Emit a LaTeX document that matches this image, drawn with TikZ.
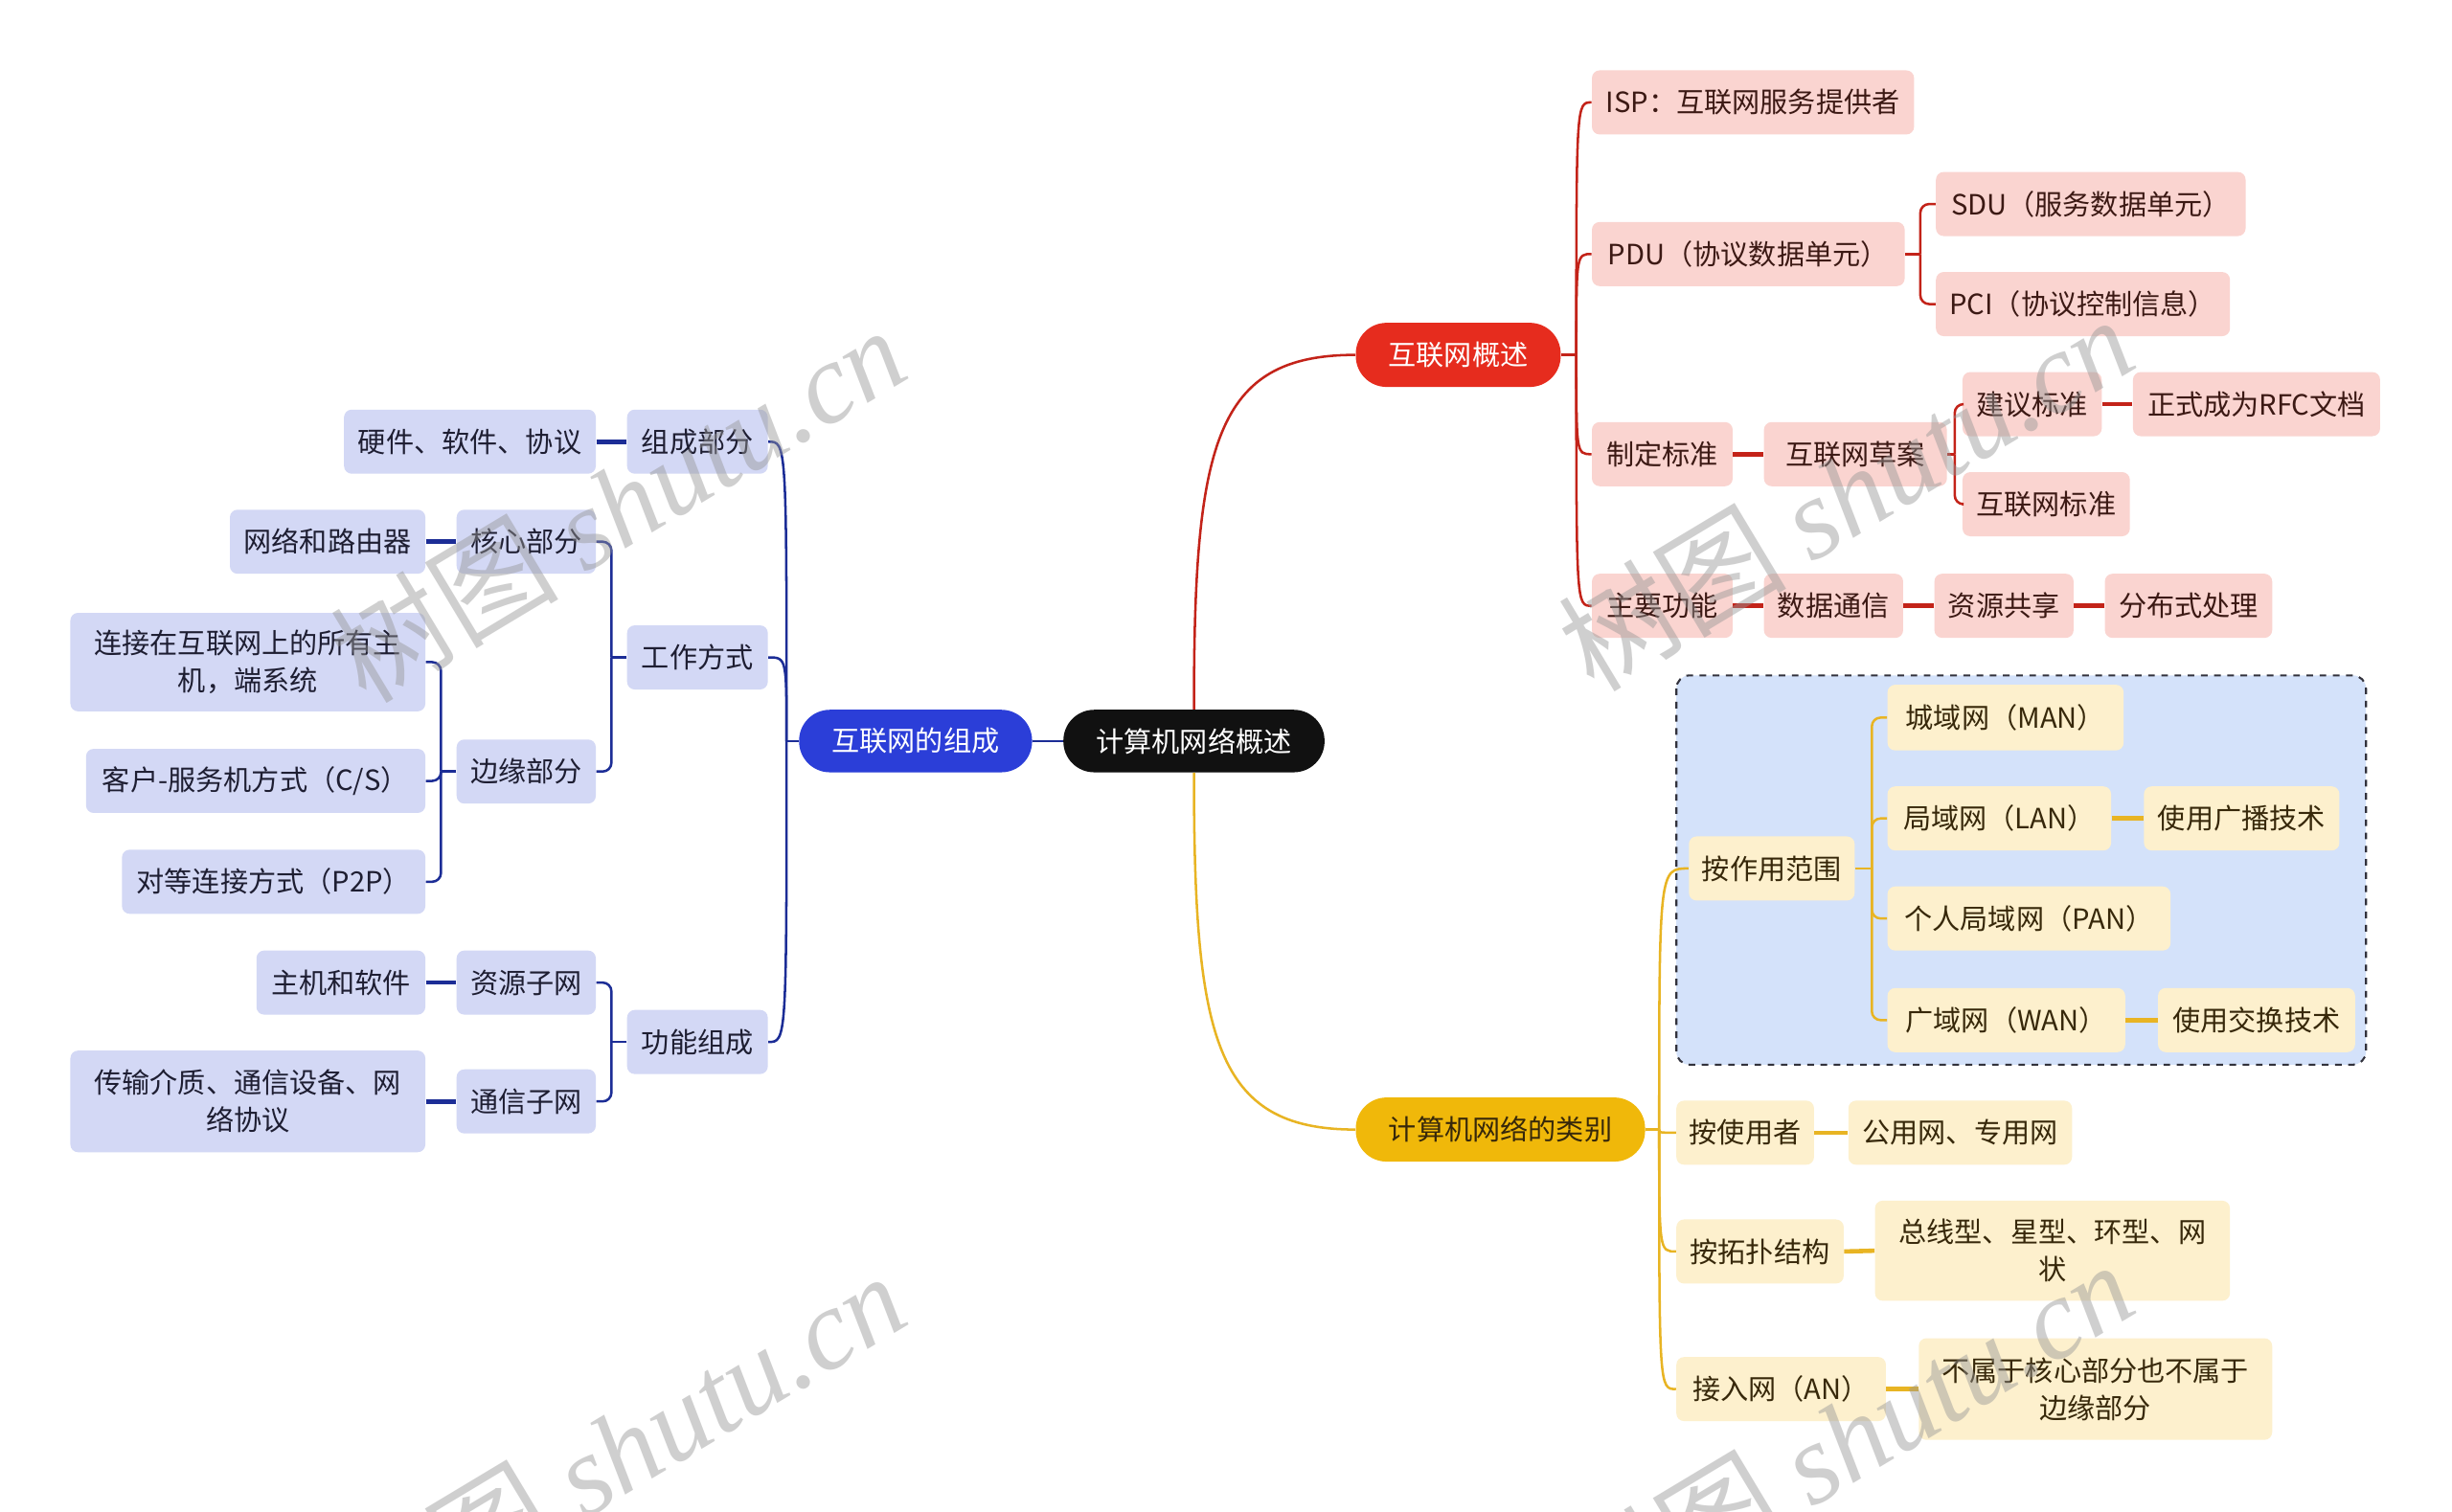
\documentclass[tikz,border=0pt]{standalone}
\usepackage{fontspec}
\setmainfont{Noto Sans CJK SC}
\newfontfamily\wmserif{Liberation Serif}
\usetikzlibrary{calc}
\definecolor{cBd}{RGB}{43,62,216}
\definecolor{cBf}{RGB}{211,216,245}
\definecolor{cBl}{RGB}{28,45,150}
\definecolor{cBt}{RGB}{30,30,50}
\definecolor{cRd}{RGB}{230,44,30}
\definecolor{cRf}{RGB}{250,212,208}
\definecolor{cRl}{RGB}{195,35,25}
\definecolor{cRt}{RGB}{60,25,20}
\definecolor{cYd}{RGB}{240,184,10}
\definecolor{cYf}{RGB}{253,240,205}
\definecolor{cYl}{RGB}{232,180,35}
\definecolor{cYt}{RGB}{55,40,10}
\definecolor{cBox}{RGB}{212,226,250}
\definecolor{cBoxB}{RGB}{50,50,60}
\definecolor{cRoot}{RGB}{17,17,17}
\definecolor{cWm}{RGB}{150,150,150}
\begin{document}
\begin{tikzpicture}[x=0.025cm,y=-0.025cm,
  base/.style={rounded corners=3.5pt, inner sep=0pt, align=center, font=\fontsize{12.7}{17}\selectfont},
  sz/.style 2 args={minimum width={#1*0.025cm}, minimum height={#2*0.025cm}},
  bnode/.style={base, fill=cBf, text=cBt},
  rnode/.style={base, fill=cRf, text=cRt},
  ynode/.style={base, fill=cYf, text=cYt},
  pill/.style={base, rounded corners=14pt},
  bln/.style={draw=cBl, line width=1.1pt},
  rln/.style={draw=cRl, line width=1.1pt},
  yln/.style={draw=cYl, line width=1.1pt},
  blt/.style={draw=cBl, line width=2pt},
  rlt/.style={draw=cRl, line width=2pt},
  ylt/.style={draw=cYl, line width=2pt},
  elb/.style={rounded corners=4pt},
  wm/.style={text=cWm, opacity=0.45, font=\fontsize{52}{52}\selectfont, inner sep=0pt}
]
\useasboundingbox (0,0) rectangle (1568,967);
\fill[white] (0,0) rectangle (1568,967);

% dashed group box
\draw[fill=cBox, draw=cBoxB, dashed, line width=0.9pt, rounded corners=6pt] (1072,432) rectangle (1513,681);

% root and main branches
\node[pill, fill=cRoot, text=white, sz={167}{40}] (root) at (763.5,474) {计算机网络概述};
\node[pill, fill=cBd, text=white, sz={149}{40}] (b1) at (585.5,474) {互联网的组成};
\node[pill, fill=cRd, text=white, sz={131}{41}] (r1) at (932.5,227) {互联网概述};
\node[pill, fill=cYd, text=cYt, sz={185}{41}] (y1) at (959.5,722.5) {计算机网络的类别};

% blue side
\node[bnode, sz={90}{41}] (zc) at (446,282.5) {组成部分};
\node[bnode, sz={161}{41}] (hw) at (300.5,282.5) {硬件、软件、协议};
\node[bnode, sz={90}{41}] (gz) at (446,420.5) {工作方式};
\node[bnode, sz={89}{41}] (hx) at (336.5,346.5) {核心部分};
\node[bnode, sz={125}{41}] (wl) at (209.5,346.5) {网络和路由器};
\node[bnode, sz={89}{41}] (by) at (336.5,493.5) {边缘部分};
\node[bnode, sz={227}{63}] (lj) at (158.5,423.5) {连接在互联网上的所有主\\机，端系统};
\node[bnode, sz={217}{41}] (kh) at (163.5,499.5) {客户-服务机方式（C/S）};
\node[bnode, sz={194}{41}] (dd) at (175,564) {对等连接方式（P2P）};
\node[bnode, sz={90}{41}] (gn) at (446,666.5) {功能组成};
\node[bnode, sz={89}{41}] (zy) at (336.5,628.5) {资源子网};
\node[bnode, sz={108}{41}] (zj) at (218,628.5) {主机和软件};
\node[bnode, sz={89}{41}] (tx) at (336.5,704.5) {通信子网};
\node[bnode, sz={227}{65}] (cs) at (158.5,704.5) {传输介质、通信设备、网\\络协议};

% red side
\node[rnode, sz={206}{41}] (isp) at (1121,65.5) {ISP：互联网服务提供者};
\node[rnode, sz={200}{41}] (pdu) at (1118,162.5) {PDU（协议数据单元）};
\node[rnode, sz={198}{41}] (sdu) at (1337,130.5) {SDU（服务数据单元）};
\node[rnode, sz={188}{41}] (pci) at (1332,194.5) {PCI（协议控制信息）};
\node[rnode, sz={90}{41}] (zd) at (1063,290.5) {制定标准};
\node[rnode, sz={117}{41}] (ca) at (1186.5,290.5) {互联网草案};
\node[rnode, sz={89}{41}] (jy) at (1299.5,258.5) {建议标准};
\node[rnode, sz={158}{41}] (rfc) at (1443,258.5) {正式成为RFC文档};
\node[rnode, sz={107}{41}] (bz) at (1308.5,322.5) {互联网标准};
\node[rnode, sz={90}{41}] (gnr) at (1063,387.5) {主要功能};
\node[rnode, sz={89}{41}] (sj) at (1172.5,387.5) {数据通信};
\node[rnode, sz={89}{41}] (zxg) at (1281.5,387.5) {资源共享};
\node[rnode, sz={107}{41}] (fb) at (1399.5,387.5) {分布式处理};

% yellow side
\node[ynode, sz={106}{41}] (zyfw) at (1133,555.5) {按作用范围};
\node[ynode, sz={151}{42}] (man) at (1282.5,459) {城域网（MAN）};
\node[ynode, sz={143}{41}] (lan) at (1278.5,523.5) {局域网（LAN）};
\node[ynode, sz={125}{41}] (gb) at (1433.5,523.5) {使用广播技术};
\node[ynode, sz={181}{41}] (pan) at (1297.5,587.5) {个人局域网（PAN）};
\node[ynode, sz={152}{41}] (wan) at (1283,652.5) {广域网（WAN）};
\node[ynode, sz={126}{41}] (jh) at (1443,652.5) {使用交换技术};
\node[ynode, sz={88}{41}] (syz) at (1116,724.5) {按使用者};
\node[ynode, sz={143}{41}] (gy) at (1253.5,724.5) {公用网、专用网};
\node[ynode, sz={107}{41}] (tp) at (1125.5,800.5) {按拓扑结构};
\node[ynode, sz={227}{64}] (zxx) at (1312.5,800) {总线型、星型、环型、网\\状};
\node[ynode, sz={134}{41}] (an) at (1139,888.5) {接入网（AN）};
\node[ynode, sz={226}{65}] (bs) at (1340,888.5) {不属于核心部分也不属于\\边缘部分};

% main connectors
\draw[rln] (root.north) .. controls +(0,-170) and +(-90,0) .. (r1.west);
\draw[yln] (root.south) .. controls +(0,170) and +(-90,0) .. (y1.west);
\draw[bln] (root.west) -- (b1.east);

% junctions
\coordinate (jb1) at (503,474);
\coordinate (jr1) at (1008,227);
\coordinate (jy1) at (1061,722.5);
\coordinate (jgz) at (391,420.5);
\coordinate (jby) at (282,493.5);
\coordinate (jgn) at (391,666.5);
\coordinate (jpdu) at (1228,162.5);
\coordinate (jca) at (1250,290.5);
\coordinate (jzy) at (1197,555.5);

% level 1 -> level 2 curves
\draw[bln] (b1.west) -- (jb1);
\foreach \c in {zc,gz,gn} {\draw[bln] (jb1) .. controls (jb1 |- \c.east) and (jb1 |- \c.east) .. (\c.east);}
\draw[rln] (r1.east) -- (jr1);
\foreach \c in {isp,pdu,zd,gnr} {\draw[rln] (jr1) .. controls (jr1 |- \c.west) and (jr1 |- \c.west) .. (\c.west);}
\draw[yln] (y1.east) -- (jy1);
\foreach \c in {zyfw,syz,tp,an} {\draw[yln] (jy1) .. controls (jy1 |- \c.west) and (jy1 |- \c.west) .. (\c.west);}

% elbows
\draw[bln] (gz.west) -- (jgz);
\foreach \c in {hx,by} {\draw[bln, elb] (jgz) |- (\c.east);}
\draw[bln] (by.west) -- (jby);
\foreach \c in {lj,kh,dd} {\draw[bln, elb] (jby) |- (\c.east);}
\draw[bln] (gn.west) -- (jgn);
\foreach \c in {zy,tx} {\draw[bln, elb] (jgn) |- (\c.east);}
\draw[rln] (pdu.east) -- (jpdu);
\foreach \c in {sdu,pci} {\draw[rln, elb] (jpdu) |- (\c.west);}
\draw[rln] (ca.east) -- (jca);
\foreach \c in {jy,bz} {\draw[rln, elb] (jca) |- (\c.west);}
\draw[yln] (zyfw.east) -- (jzy);
\foreach \c in {man,lan,pan,wan} {\draw[yln, elb] (jzy) |- (\c.west);}

% straight links
\draw[blt] (hw.east) -- (zc.west);
\draw[blt] (wl.east) -- (hx.west);
\draw[blt] (zj.east) -- (zy.west);
\draw[blt] (cs.east) -- (tx.west);
\draw[rlt] (zd.east) -- (ca.west);
\draw[rlt] (jy.east) -- (rfc.west);
\draw[rlt] (gnr.east) -- (sj.west);
\draw[rlt] (sj.east) -- (zxg.west);
\draw[rlt] (zxg.east) -- (fb.west);
\draw[ylt] (lan.east) -- (gb.west);
\draw[ylt] (wan.east) -- (jh.west);
\draw[ylt] (syz.east) -- (gy.west);
\draw[ylt] (tp.east) -- (zxx.west);
\draw[ylt] (an.east) -- (bs.west);

% watermarks
\begin{scope}
\clip (0,0) rectangle (1568,967);
\node[wm, rotate=31] (wm1) at (395,322) {树图 {\wmserif\itshape shutu.cn}};
\node[wm, rotate=31] (wm2) at (1180,315) {树图 {\wmserif\itshape shutu.cn}};
\node[wm, rotate=31] (wm3) at (395,927) {树图 {\wmserif\itshape shutu.cn}};
\node[wm, rotate=31] (wm4) at (1180,920) {树图 {\wmserif\itshape shutu.cn}};
\end{scope}
\end{tikzpicture}
\end{document}
